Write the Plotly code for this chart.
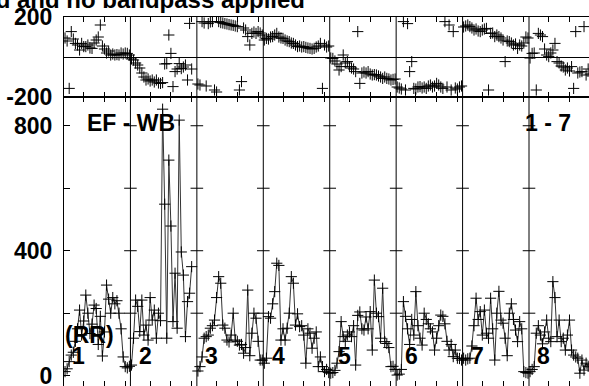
import plotly.graph_objects as go

# ---------------- data ----------------
N_CH = 32
BANDS = ["1", "2", "3", "4", "5", "6", "7", "8"]

amp_b1 = [13, 22, 45, 66, 75, 110, 150, 210, 130, 175, 258, 200, 135, 165, 226, 215, 100, 190, 63, 140, 290, 245, 200, 250, 230, 240, 200, 150, 60, 29, 25, 30]
amp_b2 = [34, 120, 242, 222, 141, 242, 130, 162, 114, 250, 178, 210, 120, 200, 176, 853, 549, 120, 690, 479, 173, 328, 152, 818, 396, 322, 125, 237, 264, 349, None, None]
amp_b3 = [15, 29, 60, 120, 125, 130, 152, 160, 178, 250, 317, 296, 162, 152, 114, 108, 130, 200, 114, 110, 98, 100, 72, 90, 274, 64, 136, 200, 184, 110, 50, 50]
amp_b4 = [40, 56, 189, 184, 230, 269, 360, 353, 114, 150, 114, 152, 200, 317, 296, 162, 198, 157, 160, 130, 40, 150, 136, 88, 120, 140, 29, 60, 29, 13, 20, 10]
amp_b5 = [8, 10, 17, 40, 77, 173, 125, 110, 130, 140, 125, 160, 34, 193, 204, 150, 146, 188, 150, 205, 82, 306, 200, 189, 120, 280, 109, 103, 90, 29, 30, 20]
amp_b6 = [2, 5, 20, 237, 190, 150, 100, 180, 130, 269, 160, 120, 98, 200, 180, 166, 150, 140, 82, 120, 160, 194, 190, 166, 110, 82, 100, 61, 82, 56, 55, 50]
amp_b7 = [56, 50, 54, 56, 95, 160, 248, 180, 205, 130, 210, 136, 120, 248, 150, 50, 200, 270, 178, 168, 120, 64, 200, 230, 180, 146, 109, 173, 150, 13, 10, 8]
amp_b8 = [13, 20, 29, 136, 160, 130, 102, 140, 178, 120, 109, 301, 250, 125, 178, 109, 120, 82, 130, 178, 82, 66, 60, 56, 8, 50, 18, 40, 30, 35, 25, 30]

ph_b1 = [95, 80, -157, 127, 90, 68, 60, 35, 68, 52, 52, 60, 45, 43, 70, 85, 100, 160, 55, 40, 20, 30, 10, 15, 10, 12, 10, 20, 15, 20, 18, 10]
ph_b2 = [-10, -15, -30, -40, -55, -80, -100, -115, -110, -120, -115, -125, -115, -130, -132, -128, -35, -33, 110, 18, -148, -73, -60, -33, -58, -50, -40, -115, 168, -60, None, None]
ph_b3 = [-135, -140, 177, 170, -145, 167, 175, 177, -165, -175, 177, 172, 170, 167, 165, 162, 160, 158, 155, 152, -165, -123, 145, 135, 102, 60, 118, 125, 118, 127, 120, 110]
ph_b4 = [85, 93, 90, 100, 102, 110, 118, 100, 95, 93, 85, 80, 77, 70, 68, 60, 52, 55, 50, 52, 48, 45, 43, 40, 43, 50, 55, 68, -157, 60, 50, 55]
ph_b5 = [-5, -7, -20, -35, -65, -48, 10, -30, -23, -48, -55, -60, -73, 127, -132, -80, -75, -80, -73, -85, -90, -88, -90, -95, -100, -107, -100, -107, -110, -115, -112, -110]
ph_b6 = [-150, -155, -160, 177, -165, 167, -73, -23, -157, -160, -150, -148, -155, -150, -157, -145, -140, -150, -145, -132, -140, -150, -157, 177, -150, 160, -165, 127, -155, -160, -150, -145]
ph_b7 = [150, 155, 160, 152, 145, 135, 140, 130, 127, 135, 140, 143, -165, 118, 120, 102, 110, 102, 95, 85, -23, 80, 77, 70, 60, 65, 43, 60, 55, 70, 100, 95]
ph_b8 = [-5, 18, 20, -165, 118, 110, 102, 40, 10, 2, 20, 35, 68, -23, -30, -45, -50, -65, -55, -70, -48, -157, 127, -80, -75, -73, 152, -90, -60, -85, -95, -70]

amp_bands = [amp_b1, amp_b2, amp_b3, amp_b4, amp_b5, amp_b6, amp_b7, amp_b8]
ph_bands = [ph_b1, ph_b2, ph_b3, ph_b4, ph_b5, ph_b6, ph_b7, ph_b8]

amp_ticks = [0, 200, 400, 600, 800]
amp_ticktext = ["0", "", "400", "", "800"]
ph_ticks = [-200, 0, 200]
ph_ticktext = ["-200", "", "200"]
chan_ticks_in_band = [10, 20, 30]

TITLE = "Data calibrated and no bandpass applied"
BASELINE = "EF - WB"
STOKES = "(RR)"
RANGE_LABEL = "1 - 7"

# ---------------- build ----------------
FONT = "Liberation Sans, Arial, Helvetica, sans-serif"
INK = "black"

xs, ys_amp, ys_ph = [], [], []
for b in range(len(BANDS)):
    for c in range(N_CH):
        xs.append(b * N_CH + c + 1)
        ys_amp.append(amp_bands[b][c])
        ys_ph.append(ph_bands[b][c])
    xs.append(None); ys_amp.append(None); ys_ph.append(None)

cross = dict(symbol="cross-thin", size=8, color=INK, line=dict(width=1, color=INK))

fig = go.Figure()
fig.add_trace(go.Scatter(x=xs, y=ys_amp, mode="lines+markers", xaxis="x", yaxis="y",
                         line=dict(color="#333333", width=1), marker=cross,
                         connectgaps=False, hoverinfo="skip", cliponaxis=True))
fig.add_trace(go.Scatter(x=xs, y=ys_ph, mode="markers", xaxis="x2", yaxis="y2",
                         marker=cross, hoverinfo="skip", cliponaxis=True))

# tick marks on band boundaries (amplitude panel)
bounds = [b * N_CH + 0.5 for b in range(1, len(BANDS))]
bx, by = [], []
for xb in bounds:
    for t in amp_ticks[1:]:
        bx.append(xb); by.append(t)
fig.add_trace(go.Scatter(x=bx, y=by, mode="markers", xaxis="x", yaxis="y",
                         marker=dict(symbol="line-ew", size=9, color=INK, line=dict(width=1, color=INK)),
                         hoverinfo="skip"))

W, H = 589, 386
L = 64
band_px = 66.43
px_per_ch = band_px / N_CH
x_lo = 0.5
x_hi = 0.5 + (W - L) / px_per_ch

split = (H - 97) / H
top = (H - 17) / H

xtickvals = [b * N_CH + t for b in range(len(BANDS)) for t in chan_ticks_in_band]

common_x = dict(range=[x_lo, x_hi], showgrid=False, zeroline=False, showline=True, mirror="ticks",
                linecolor=INK, linewidth=1, ticks="inside", ticklen=5, tickcolor=INK,
                tickvals=xtickvals, showticklabels=False, automargin=False)

tickfont = dict(family=FONT, size=23, color=INK, weight="bold")

fig.update_layout(
    width=W, height=H, margin=dict(l=L, r=0, t=0, b=0, pad=0, autoexpand=False),
    paper_bgcolor="white", plot_bgcolor="white", showlegend=False,
    title=dict(text=TITLE, x=305 / W, xref="container", xanchor="right",
               y=1.0, yref="container", yanchor="middle",
               font=dict(family=FONT, size=24, color=INK, weight="bold"), automargin=False),
    xaxis=dict(anchor="y", **common_x),
    xaxis2=dict(anchor="y2", matches="x", **common_x),
    yaxis=dict(domain=[0, split], range=[-33, 892], showgrid=False, zeroline=False,
               showline=True, mirror=False, linecolor=INK, linewidth=1, automargin=False,
               ticks="inside", ticklen=6, tickcolor=INK, tickvals=amp_ticks, ticktext=amp_ticktext,
               tickfont=tickfont, ticklabelstandoff=6, ticklabeloverflow="allow"),
    yaxis2=dict(domain=[split, top], range=[-200, 200], showgrid=False, zeroline=True,
                zerolinecolor=INK, zerolinewidth=1, automargin=False,
                showline=True, mirror=False, linecolor=INK, linewidth=1,
                ticks="inside", ticklen=6, tickcolor=INK, tickvals=ph_ticks, ticktext=ph_ticktext,
                tickfont=tickfont, ticklabelstandoff=6, ticklabeloverflow="allow"),
)

shapes = []
for xb in bounds:
    shapes.append(dict(type="line", xref="x", yref="paper", x0=xb, x1=xb, y0=0, y1=top,
                       line=dict(color=INK, width=1)))
fig.update_layout(shapes=shapes)

ann_font = dict(family=FONT, size=23, color=INK, weight="bold")
anns = [
    dict(text=BASELINE, x=32.8, y=808, xref="x", yref="y", showarrow=False, font=ann_font),
    dict(text=RANGE_LABEL, x=233.6, y=808, xref="x", yref="y", showarrow=False, font=ann_font),
    dict(text=STOKES, x=13, y=130, xref="x", yref="y", showarrow=False, font=ann_font),
]
for b, name in enumerate(BANDS):
    anns.append(dict(text=name, x=b * N_CH + 7.7, y=63, xref="x", yref="y", showarrow=False,
                     font=ann_font))
fig.update_layout(annotations=anns)

fig.write_html("out.html", config={"displayModeBar": False, "staticPlot": True},
               post_script="document.body.style.margin='0';document.body.style.overflow='hidden';")
